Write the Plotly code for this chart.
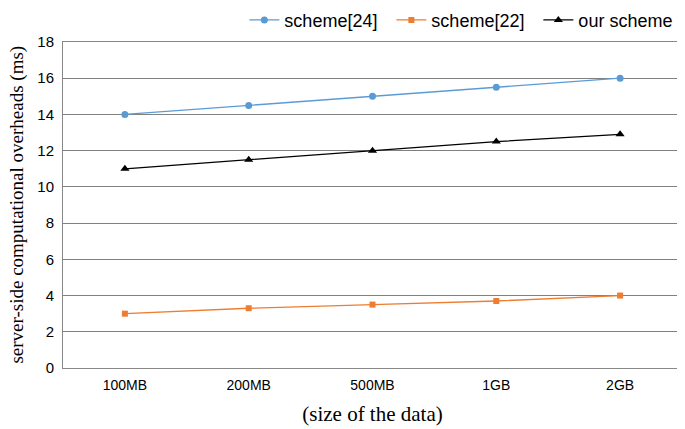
import plotly.graph_objects as go

categories = ["100MB", "200MB", "500MB", "1GB", "2GB"]
scheme24 = [14, 14.5, 15, 15.5, 16]
scheme22 = [3, 3.3, 3.5, 3.7, 4]
ours = [11, 11.5, 12, 12.5, 12.9]

fig = go.Figure()
fig.add_trace(go.Scatter(x=categories, y=scheme24, name="scheme[24]", mode="lines+markers",
                         line=dict(color="#5B9BD5", width=1.3), marker=dict(symbol="circle", size=7, color="#5B9BD5")))
fig.add_trace(go.Scatter(x=categories, y=scheme22, name="scheme[22]", mode="lines+markers",
                         line=dict(color="#ED7D31", width=1.3), marker=dict(symbol="square", size=6, color="#ED7D31")))
fig.add_trace(go.Scatter(x=categories, y=ours, name="our scheme", mode="lines+markers",
                         line=dict(color="#000000", width=1.3), marker=dict(symbol="triangle-up", size=8, color="#000000")))

# page body has an 8px margin, so the figure is offset by 8px; compensate
fig.update_layout(
    width=677, height=421,
    margin=dict(l=55, r=3, t=34, b=61, autoexpand=False),
    paper_bgcolor="white", plot_bgcolor="white",
    font=dict(family="Liberation Sans, Arial, sans-serif", size=14, color="#000"),
    showlegend=True,
    legend=dict(orientation="h", x=0.293, xanchor="left", y=1.01, yanchor="bottom",
                font=dict(size=18), traceorder="normal", bgcolor="rgba(0,0,0,0)",
                entrywidth=102, entrywidthmode="pixels"),
    xaxis=dict(type="category", showgrid=False, showline=True, linecolor="#888", linewidth=1, mirror=True,
               ticks="", tickfont=dict(size=14), range=[-0.5, 4.5], automargin=False, ticklabelstandoff=4,
               title=dict(text="(size of the data)", font=dict(family="Liberation Serif, Times New Roman, serif", size=21), standoff=14)),
    yaxis=dict(range=[0, 18], dtick=2, showgrid=True, gridcolor="#808080", gridwidth=1, showline=True,
               linecolor="#888", linewidth=1, mirror=True, ticks="", tickfont=dict(size=15), zeroline=False,
               automargin=False, ticklabelstandoff=5),
    annotations=[dict(text="server-side computational overheads (ms)", textangle=-90, xref="paper", yref="paper",
                      x=-0.075, y=0.5, xanchor="center", yanchor="middle", showarrow=False,
                      font=dict(family="Liberation Serif, Times New Roman, serif", size=19))],
)
fig.write_html("out.html")
